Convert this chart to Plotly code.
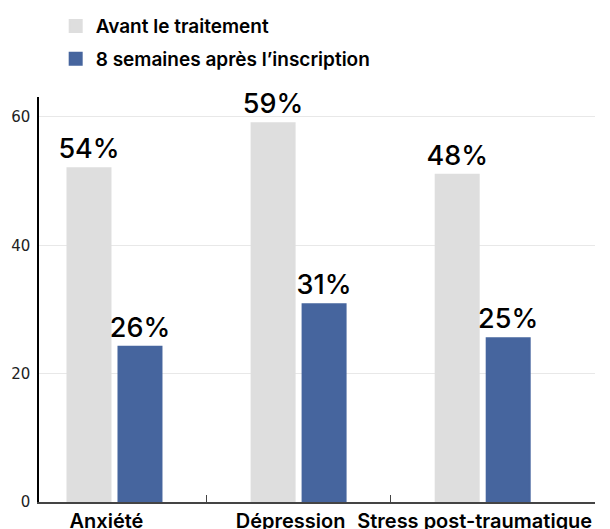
import plotly.graph_objects as go

categories = ["Anxiété", "Dépression", "Stress post-traumatique"]
avant_values = [52.0, 59.0, 51.0]
apres_values = [24.2, 30.8, 25.5]
avant_labels = ["54%", "59%", "48%"]
apres_labels = ["26%", "31%", "25%"]
series_names = ["Avant le traitement", "8 semaines après l’inscription"]
y_ticks = [0, 20, 40, 60]
boundary_ticks = [0.5, 1.5]

FONT = "Inter"
GREY = "#DEDEDE"
BLUE = "#46659E"

fig = go.Figure()
fig.add_trace(go.Bar(
    x=categories, y=avant_values, name=series_names[0], legendgroup="a",
    marker=dict(color=GREY, line=dict(width=2, color=GREY)),
    text=avant_labels, textposition="outside", cliponaxis=False,
    constraintext="none",
    textfont=dict(family=FONT, size=27, color="#000000", weight=500),
))
fig.add_trace(go.Bar(
    x=categories, y=apres_values, name=series_names[1], legendgroup="b",
    marker=dict(color=BLUE, line=dict(width=2, color=BLUE)),
    text=apres_labels, textposition="outside", cliponaxis=False,
    constraintext="none",
    textfont=dict(family=FONT, size=27, color="#000000", weight=500),
))
# empty helper trace so the overlay axis (boundary tick marks) is drawn
fig.add_trace(go.Scatter(x=[], y=[], xaxis="x2", yaxis="y", showlegend=False,
                         hoverinfo="skip"))

fig.update_layout(
    width=610, height=529,
    margin=dict(l=31, r=23, t=89, b=35, autoexpand=False),
    paper_bgcolor="white", plot_bgcolor="white",
    barmode="group", bargap=0.446, bargroupgap=0.157,
    font=dict(family=FONT, color="#000000"),
    showlegend=True,
    legend=dict(
        orientation="v", x=0.030, xref="paper", y=1.222, yref="paper",
        xanchor="left", yanchor="top",
        font=dict(family=FONT, size=19, color="#000000", weight=600),
        itemsizing="constant", tracegroupgap=5,
    ),
)
fig.update_xaxes(
    type="category", range=[-0.41, 2.61], automargin=False,
    showgrid=False, showline=True, linecolor="#444444", linewidth=1.5,
    ticks="", tickfont=dict(family=FONT, size=20, color="#000000", weight=600),
    ticklabelstandoff=0, ticklabelshift=-8,
)
fig.update_yaxes(
    range=[0, 63.1], tickvals=y_ticks, automargin=False,
    showgrid=True, gridcolor="#E8E8E8", gridwidth=1,
    showline=True, linecolor="#000000", linewidth=1.5,
    ticks="", zeroline=False,
    tickfont=dict(family="DejaVu Sans", size=15, color="#222222"),
    ticklabelstandoff=4,
)
fig.update_layout(
    xaxis2=dict(
        overlaying="x", anchor="y", range=[-0.41, 2.61], automargin=False,
        tickvals=boundary_ticks, showticklabels=False,
        ticks="inside", ticklen=7, tickcolor="#444444", tickwidth=1,
        showgrid=False, showline=False, zeroline=False, side="bottom",
    )
)

fig.write_html("out.html")
